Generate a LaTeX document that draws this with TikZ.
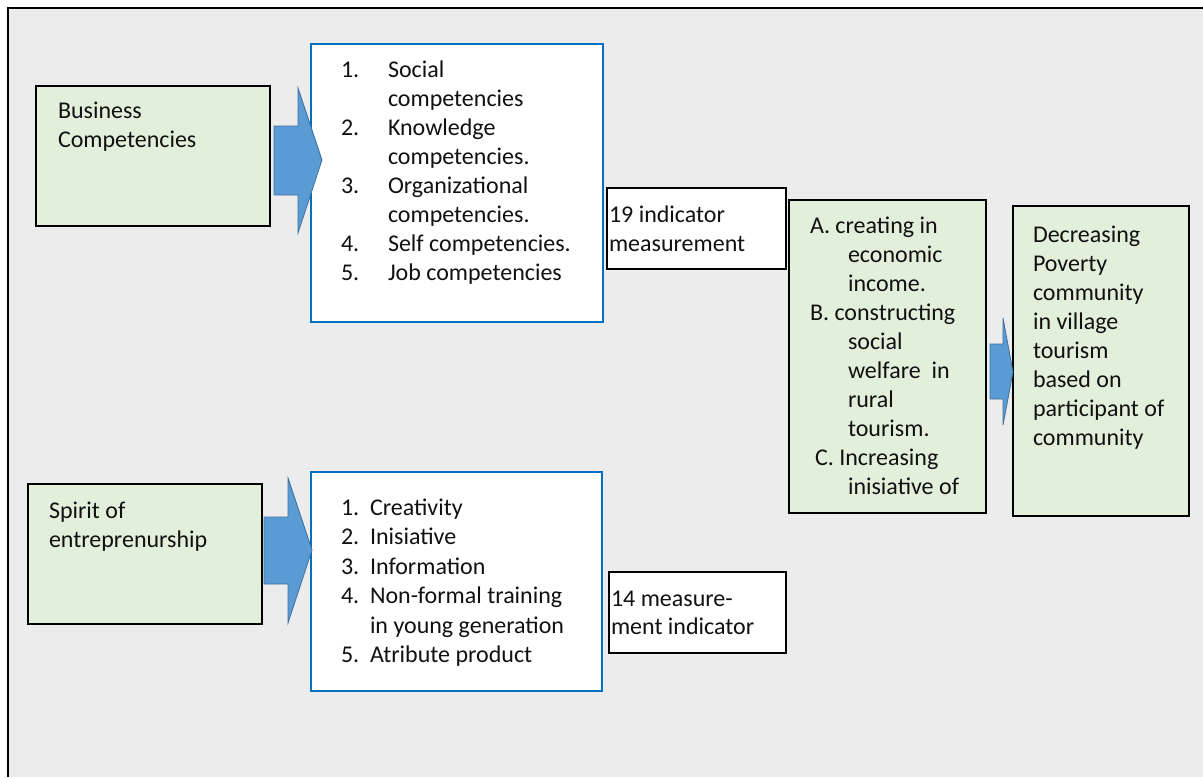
\documentclass[tikz,border=0pt]{standalone}
\usepackage{fontspec}
\setmainfont{Carlito}
\definecolor{bg}{HTML}{ECECEC}
\definecolor{gfill}{HTML}{E2EFDA}
\definecolor{bblue}{HTML}{0070C0}
\definecolor{afill}{HTML}{5B9BD5}
\definecolor{aedge}{HTML}{41719C}
\definecolor{ink}{HTML}{111111}
\begin{document}
\begin{tikzpicture}[x=1pt,y=-1pt,
  every node/.style={inner sep=0pt,outer sep=0pt},
  txt/.style={anchor=base west,text=ink,font=\fontsize{24}{29}\selectfont},
  box/.style={rectangle,anchor=north west},
  greenbox/.style={box,draw=black,line width=1.6pt,fill=gfill},
  bluebox/.style={box,draw=bblue,line width=2pt,fill=white},
  whitebox/.style={box,draw=black,line width=2.4pt,fill=white},
  bigarrow/.style={fill=afill,draw=aedge,line width=0.8pt,line join=miter}]
\useasboundingbox (0,0) rectangle (1203,777);
\fill[bg] (8,8) rectangle (1203,777);
\draw[line width=2pt] (8,777) -- (8,8) -- (1203,8);

% boxes
\node[greenbox,minimum width=234,minimum height=140] (bc) at (36,86) {};
\node[bluebox,minimum width=292,minimum height=278] (bl1) at (311,44) {};
\node[whitebox,minimum width=179,minimum height=81] (ind19) at (607,188) {};
\node[greenbox,minimum width=197,minimum height=313] (abc) at (789,200) {};
\node[greenbox,minimum width=176,minimum height=310] (dec) at (1013,206) {};
\node[greenbox,minimum width=234,minimum height=140] (sp) at (28,484) {};
\node[bluebox,minimum width=291,minimum height=219] (bl2) at (311,472) {};
\node[whitebox,minimum width=177,minimum height=81] (ind14) at (609,572) {};

% arrows
\draw[bigarrow] ([xshift=4pt]bc.east |- 0,126) -- (298,126) -- (298,88) -- (322,160) -- (298,233) -- (298,195) -- ([xshift=4pt]bc.east |- 0,195) -- cycle;
\draw[bigarrow] ([xshift=2pt]sp.east |- 0,517) -- (288,517) -- (288,478) -- (312,550) -- (288,623) -- (288,584) -- ([xshift=2pt]sp.east |- 0,584) -- cycle;
\draw[bigarrow] (990,344) -- (1003,344) -- (1003,318) -- (dec.west |- 0,372) -- (1003,425) -- (1003,399) -- (990,399) -- cycle;

% texts
\node[txt] (t1) at (58,118) {Business};
\node[txt] (t2) at (58,147) {Competencies};

\node[txt] (n1) at (341,77) {1.};   \node[txt] (l1) at (388,77) {Social};
\node[txt] (l2) at (388,106) {competencies};
\node[txt] (n2) at (341,135) {2.};  \node[txt] (l3) at (388,135) {Knowledge};
\node[txt] (l4) at (388,164) {competencies.};
\node[txt] (n3) at (341,193) {3.};  \node[txt] (l5) at (388,193) {Organizational};
\node[txt] (l6) at (388,222) {competencies.};
\node[txt] (n4) at (341,251) {4.};  \node[txt] (l7) at (388,251) {Self competencies.};
\node[txt] (n5) at (341,280) {5.};  \node[txt] (l8) at (388,280) {Job competencies};

\node[txt] (i1) at (609,222) {19 indicator};
\node[txt] (i2) at (609,251) {measurement};

\node[txt] (a1) at (810,233) {A. creating in};
\node[txt] (a2) at (848,262) {economic};
\node[txt] (a3) at (848,291) {income.};
\node[txt] (b1) at (810,320) {B. constructing};
\node[txt] (b2) at (848,349) {social};
\node[txt] (b3) at (848,378) {welfare\ \ in};
\node[txt] (b4) at (848,407) {rural};
\node[txt] (b5) at (848,436) {tourism.};
\node[txt] (c1) at (815,465) {C. Increasing};
\node[txt] (c2) at (848,494) {inisiative of};

\node[txt] (d1) at (1033,242) {Decreasing};
\node[txt] (d2) at (1033,271) {Poverty};
\node[txt] (d3) at (1033,300) {community};
\node[txt] (d4) at (1033,329) {in village};
\node[txt] (d5) at (1033,358) {tourism};
\node[txt] (d6) at (1033,387) {based on};
\node[txt] (d7) at (1033,416) {participant of};
\node[txt] (d8) at (1033,445) {community};

\node[txt] (s1) at (49,518) {Spirit of};
\node[txt] (s2) at (49,547) {entreprenurship};

\node[txt] (m1) at (341,515) {1.}; \node[txt] (k1) at (370,515) {Creativity};
\node[txt] (m2) at (341,544) {2.}; \node[txt] (k2) at (370,544) {Inisiative};
\node[txt] (m3) at (341,574) {3.}; \node[txt] (k3) at (370,574) {Information};
\node[txt] (m4) at (341,603) {4.}; \node[txt] (k4) at (370,603) {Non-formal training};
\node[txt] (k5) at (370,633) {in young generation};
\node[txt] (m5) at (341,662) {5.}; \node[txt] (k6) at (370,662) {Atribute product};

\node[txt] (j1) at (611,606) {14 measure-};
\node[txt] (j2) at (611,634) {ment indicator};
\end{tikzpicture}
\end{document}
